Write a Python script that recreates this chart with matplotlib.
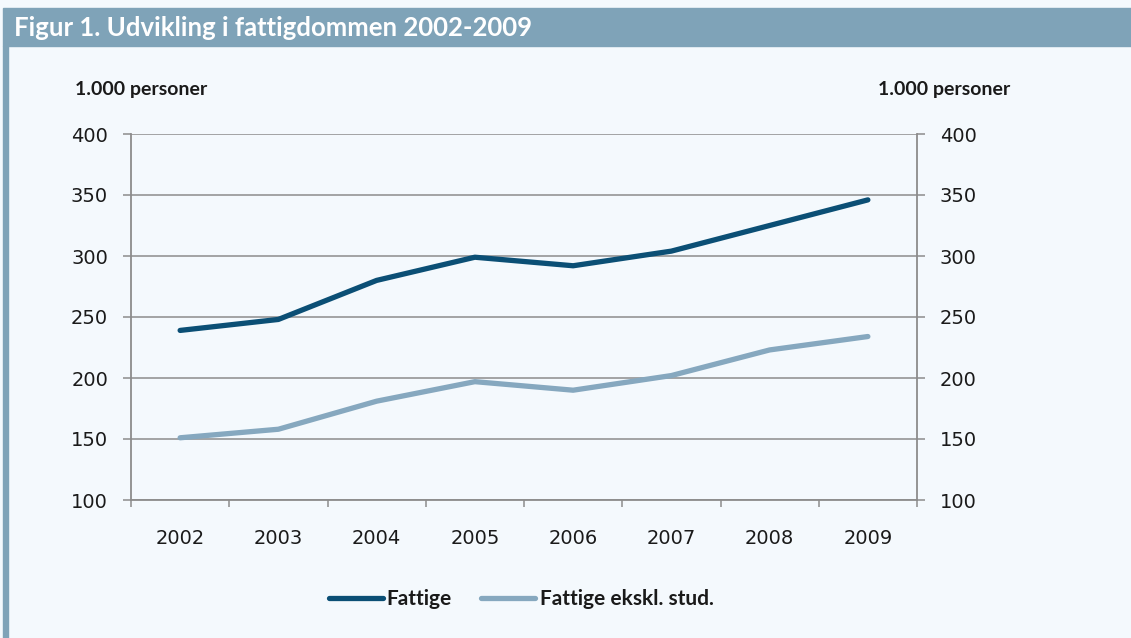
import matplotlib
matplotlib.use("Agg")
import matplotlib.pyplot as plt
from matplotlib.patches import Rectangle

plt.rcParams['font.family'] = ['Lato', 'DejaVu Sans']

years = ['2002', '2003', '2004', '2005', '2006', '2007', '2008', '2009']
fattige = [239, 248, 280, 299, 292, 304, 325, 346]
fattige_ekskl = [151, 158, 181, 197, 190, 202, 223, 234]
y_ticks = [100, 150, 200, 250, 300, 350, 400]

bg = '#f4f9fd'
bar_col = '#7fa3b8'
dark = '#0b4f75'
light = '#86a8bf'
grid_col = '#8c8c8c'
txt = '#1a1a1a'

fig = plt.figure(figsize=(11.31, 6.38), dpi=100, facecolor=bg)

# title bar and left strip
fig.patches.append(Rectangle((3 / 1131, 1 - 46 / 638), 1 - 3 / 1131, 38 / 638,
                             transform=fig.transFigure, color=bar_col, zorder=0))
fig.patches.append(Rectangle((3 / 1131, 0), 5 / 1131, 1 - 46 / 638,
                             transform=fig.transFigure, color=bar_col, zorder=0))
fig.text(14 / 1131, 1 - 28 / 638, 'Figur 1. Udvikling i fattigdommen 2002-2009',
         color='white', fontsize=18.5, fontweight='bold', va='center', ha='left')

ax = fig.add_axes([131 / 1131, 138 / 638, (917 - 131) / 1131, (500 - 134) / 638])
ax.set_facecolor(bg)

x = list(range(len(years)))
ax.plot(x, fattige, color=dark, lw=3.8, solid_capstyle='round', label='Fattige', zorder=3)
ax.plot(x, fattige_ekskl, color=light, lw=3.8, solid_capstyle='round',
        label='Fattige ekskl. stud.', zorder=3)

ax.set_xlim(-0.5, len(years) - 0.5)
ax.set_ylim(100, 400)
ax.set_yticks(y_ticks)
ax.yaxis.grid(True, color=grid_col, lw=1.1)
ax.set_axisbelow(True)

for s in ['left', 'right', 'bottom']:
    ax.spines[s].set_color(grid_col)
    ax.spines[s].set_linewidth(1.3)
ax.spines['top'].set_visible(False)

ax.tick_params(axis='y', which='major', left=True, right=True, labelleft=True,
               labelright=True, length=6, width=1.1, color=grid_col, pad=10.5,
               labelsize=14, labelcolor=txt)

ax.set_xticks(x)
ax.set_xticklabels(years)
ax.set_xticks([i - 0.5 for i in range(len(years) + 1)], minor=True)
ax.tick_params(axis='x', which='major', length=0, pad=21, labelsize=14,
               labelcolor=txt)
ax.tick_params(axis='x', which='minor', length=5, width=1.1, color=grid_col,
               direction='out')
for lab in ax.get_xticklabels() + ax.get_yticklabels() + ax.get_yticklabels(which='major'):
    lab.set_family('DejaVu Sans')
for lab in ax.yaxis.get_ticklabels(which='major'):
    lab.set_family('DejaVu Sans')
for t in ax.yaxis.get_major_ticks():
    t.label2.set_family('DejaVu Sans')

fig.text(75 / 1131, 1 - 89 / 638, '1.000 personer', fontsize=14,
         fontweight='bold', va='center', ha='left', color=txt)
fig.text(1010 / 1131, 1 - 89 / 638, '1.000 personer', fontsize=14,
         fontweight='bold', va='center', ha='right', color=txt)

leg = fig.legend(loc='center', bbox_to_anchor=(521 / 1131, 1 - 599 / 638), ncol=2,
                 frameon=False, handlelength=2.6, handletextpad=0.2,
                 columnspacing=1.4, prop={'weight': 'bold', 'size': 15})
for t in leg.get_texts():
    t.set_color(txt)

fig.savefig('out.png', dpi=100, facecolor=bg)
